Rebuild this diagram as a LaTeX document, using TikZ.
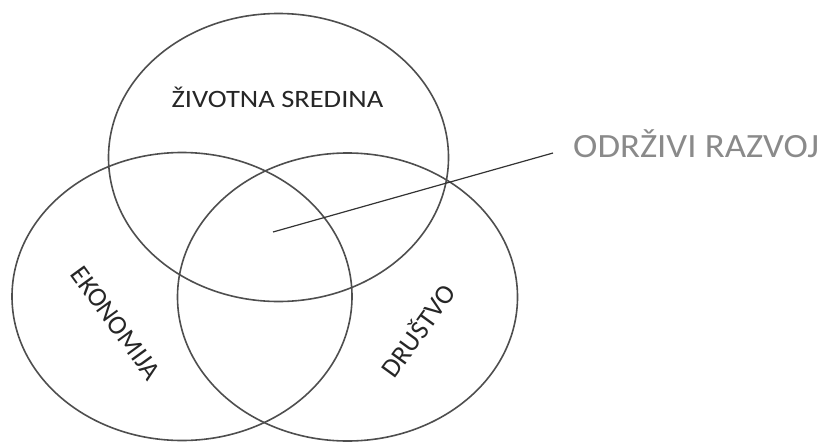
\documentclass[tikz,border=0pt]{standalone}
\usepackage{fontspec}
\setmainfont{Carlito}
\usetikzlibrary{shapes.geometric}
\definecolor{ink}{HTML}{4E4E4E}
\definecolor{txt}{HTML}{262626}
\definecolor{graytxt}{HTML}{8A8A8A}
\begin{document}
\begin{tikzpicture}[x=1pt,y=-1pt,
  setbox/.style={draw=ink,line width=1.6pt,ellipse,minimum width=340pt,minimum height=288pt,inner sep=0pt},
  setlabel/.style={text=txt,font=\fontsize{27}{30}\selectfont,inner sep=0pt},
  toplabel/.style={text=txt,font=\fontsize{25}{30}\selectfont,inner sep=0pt,xscale=1.14},
  biglabel/.style={text=graytxt,font=\fontsize{34}{38}\selectfont,inner sep=0pt,xscale=1.08},
  leader/.style={draw=black!80,line width=1.2pt}]
\useasboundingbox (0,0) rectangle (830,442);
\node[setbox] (env) at (278.5,157.5) {};
\node[setbox] (eco) at (182,296.5) {};
\node[setbox] (soc) at (347.5,297) {};
\node[toplabel,anchor=base] (envl) at (277.5,107) {ŽIVOTNA SREDINA};
\node[setlabel,rotate=-54] (ecol) at (116,323) {EKONOMIJA};
\node[setlabel,rotate=54] (socl) at (417,330) {DRUŠTVO};
\node[biglabel,anchor=base west] (sd) at (573,157) {ODRŽIVI RAZVOJ};
\coordinate (core) at (273,232);
\coordinate (tip) at (553,153);
\draw[leader] (core) -- (tip);
\end{tikzpicture}
\end{document}
